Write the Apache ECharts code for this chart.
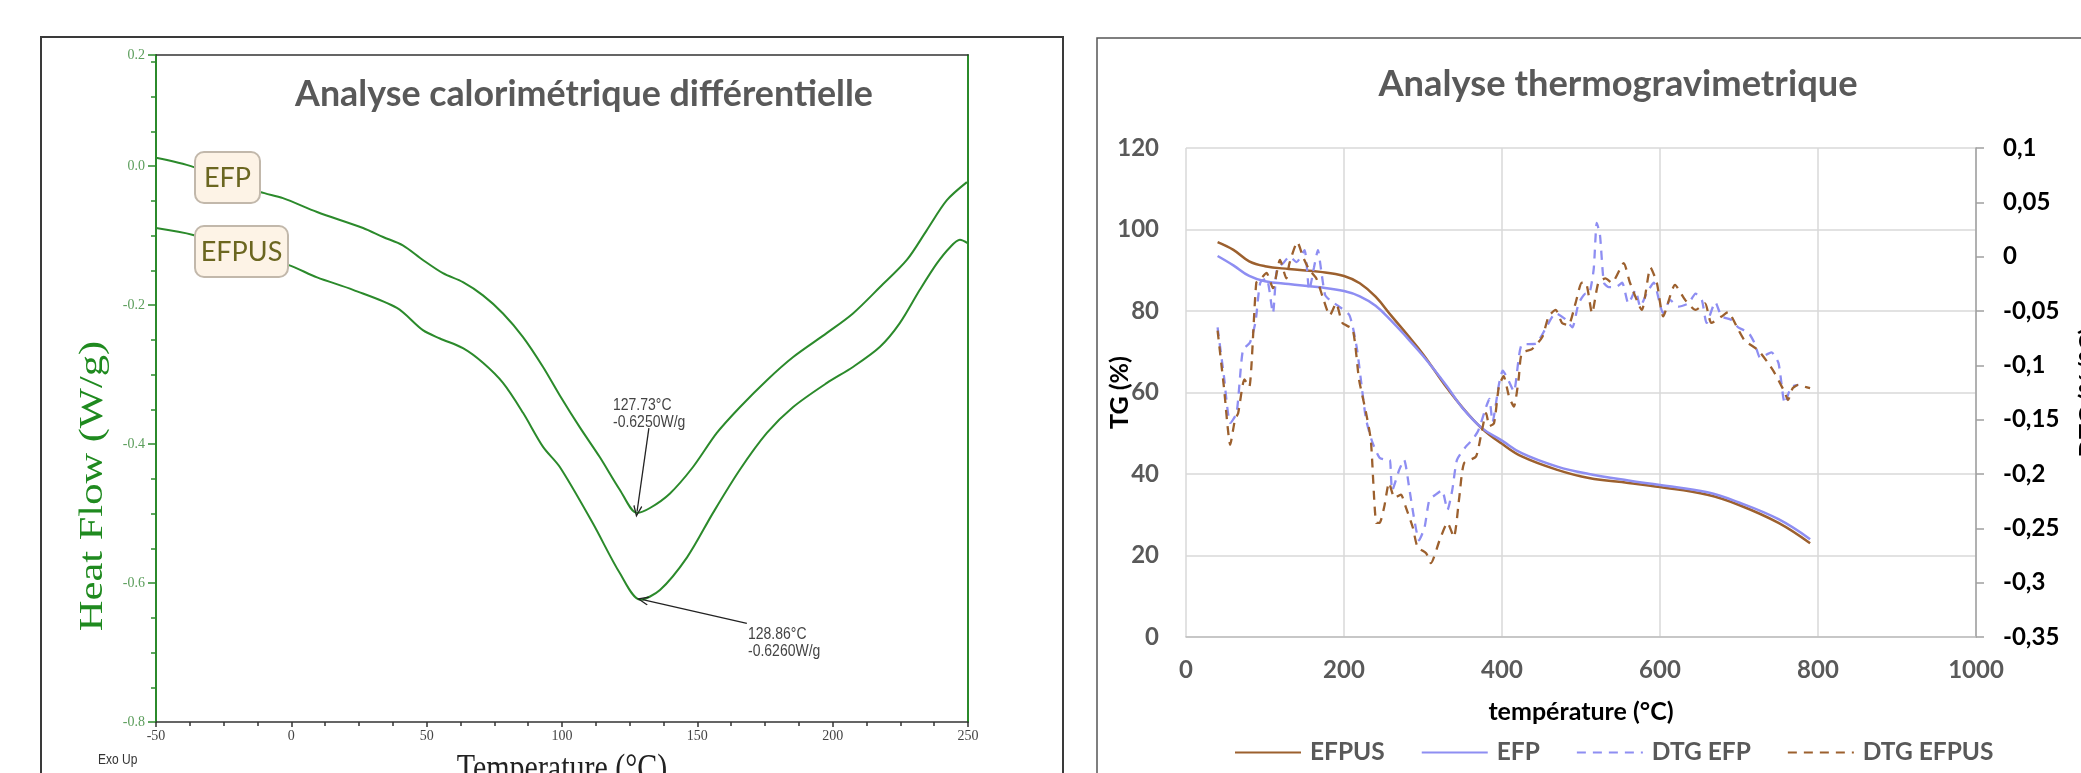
<!DOCTYPE html>
<html>
<head>
<meta charset="utf-8">
<script src="https://cdn.jsdelivr.net/npm/echarts@6/dist/echarts.min.js"></script>
<style>
html,body{margin:0;padding:0;background:#fff;}
#chart{width:2081px;height:773px;}
</style>
</head>
<body>
<div id="chart"></div>
<script>
// ---------- DSC (left) ----------
const dscTempEFP = [-50, -36.3, -11.6, -3.1, 9.5, 26.5, 33.9, 41.2, 48.6, 56.0, 63.4, 70.8, 78.2, 85.6, 93.0, 99.2, 106.6, 114.0, 121.4, 127.7, 132.5, 139.9, 148.4, 157.2, 165.7, 175.7, 185.3, 197.9, 207.5, 217.5, 227.4, 234.8, 242.2, 249.6];
const dscHeatEFP = [0.012, -0.001, -0.037, -0.046, -0.066, -0.089, -0.102, -0.114, -0.135, -0.154, -0.167, -0.186, -0.212, -0.246, -0.289, -0.330, -0.376, -0.419, -0.466, -0.499, -0.492, -0.471, -0.433, -0.384, -0.347, -0.308, -0.275, -0.240, -0.212, -0.174, -0.135, -0.092, -0.049, -0.023];
const dscTempEFPUS = [-50, -36.3, -1.2, 9.5, 22.8, 39.0, 48.6, 54.9, 63.4, 70.8, 78.2, 85.6, 93.0, 99.2, 111.4, 121.4, 128.9, 136.2, 146.2, 155.8, 165.7, 175.7, 185.3, 197.9, 207.5, 217.5, 224.8, 232.2, 238.5, 243.3, 247.0, 250.0];
const dscHeatEFPUS = [-0.089, -0.099, -0.142, -0.160, -0.178, -0.204, -0.236, -0.248, -0.262, -0.283, -0.312, -0.355, -0.404, -0.433, -0.514, -0.586, -0.624, -0.610, -0.563, -0.499, -0.437, -0.384, -0.347, -0.312, -0.289, -0.260, -0.226, -0.178, -0.140, -0.117, -0.106, -0.111];
const dscYTickLabels = ['-0.8', '-0.6', '-0.4', '-0.2', '0.0', '0.2'];
// annotation arrows: [start temp, start heat flow, end temp, end heat flow]
const annEFP = [132.1, -0.377, 127.73, -0.497];
const annEFPUS = [168.3, -0.658, 129.8, -0.624];

// ---------- TGA (right) ----------
const tgTemp = [40, 60, 80, 100, 130, 170, 200, 220, 240, 260, 280, 300, 330, 350, 375, 400, 425, 470, 510, 560, 600, 660, 700, 750, 790];
const tgEFPUS = [96.9, 95.0, 92.2, 91.0, 90.3, 89.6, 88.6, 86.8, 83.5, 78.8, 74.2, 69.4, 61.2, 56.3, 51.1, 47.4, 44.3, 41.0, 39.0, 37.8, 36.8, 34.9, 32.4, 28.0, 23.0];
const tgEFP = [93.5, 91.2, 88.6, 87.3, 86.6, 85.8, 84.9, 83.6, 81.3, 77.6, 73.4, 69.0, 61.6, 56.2, 51.2, 48.2, 45.1, 41.8, 40.0, 38.4, 37.3, 35.5, 33.0, 28.9, 24.0];

const dtgTempEFP = [40,48,56,64,72,81,88,94,102,110,115,123,131,140,150,156,162,167,171,176,182,194,207,216,223,228,236,245,254,258,261,270,276,283,289,295,302,308,316,324,331,337,343,354,362,370,380,384,388,396,401,407,415,425,443,456,468,481,489,497,506,510,516,520,524,529,535,544,552,560,569,575,583,592,604,613,623,636,645,653,659,670,678,690,699,712,720,727,741,750,758,766,775];
const dtgEFP = [-0.065,-0.11,-0.153,-0.144,-0.086,-0.079,-0.06,-0.024,-0.02,-0.052,-0.012,-0.006,0.0,-0.005,0.006,-0.031,-0.01,0.006,-0.012,-0.035,-0.04,-0.046,-0.054,-0.083,-0.123,-0.15,-0.171,-0.185,-0.187,-0.187,-0.215,-0.196,-0.187,-0.215,-0.242,-0.261,-0.249,-0.224,-0.219,-0.215,-0.233,-0.215,-0.187,-0.175,-0.169,-0.16,-0.138,-0.131,-0.152,-0.118,-0.105,-0.112,-0.124,-0.081,-0.08,-0.065,-0.052,-0.058,-0.065,-0.043,-0.034,-0.034,-0.012,0.031,0.02,-0.024,-0.028,-0.028,-0.024,-0.043,-0.031,-0.046,-0.034,-0.024,-0.052,-0.04,-0.046,-0.043,-0.034,-0.04,-0.061,-0.042,-0.055,-0.058,-0.065,-0.07,-0.08,-0.093,-0.088,-0.098,-0.135,-0.12,-0.118];
const dtgTempEFPUS = [40,48,56,62,66,74,80,89,95,102,110,119,127,131,141,148,156,165,173,182,190,198,211,219,228,234,241,245,251,257,264,272,278,287,293,304,310,321,331,339,346,352,367,374,380,384,390,396,402,409,415,421,425,438,451,459,468,476,484,493,501,506,514,522,531,539,554,562,577,588,596,604,619,632,645,657,665,678,686,699,707,724,737,745,758,762,768,775,785,790];
const dtgEFPUS = [-0.068,-0.12,-0.173,-0.15,-0.144,-0.113,-0.12,-0.024,-0.02,-0.015,-0.029,-0.003,-0.02,-0.006,0.0135,0.0,-0.012,-0.02,-0.037,-0.054,-0.043,-0.061,-0.067,-0.113,-0.144,-0.169,-0.245,-0.245,-0.23,-0.208,-0.222,-0.219,-0.23,-0.249,-0.267,-0.273,-0.282,-0.261,-0.245,-0.258,-0.221,-0.19,-0.184,-0.162,-0.144,-0.156,-0.153,-0.12,-0.11,-0.129,-0.138,-0.113,-0.089,-0.085,-0.074,-0.055,-0.049,-0.061,-0.063,-0.043,-0.024,-0.024,-0.052,-0.024,-0.02,-0.024,-0.006,-0.024,-0.049,-0.01,-0.024,-0.055,-0.026,-0.04,-0.049,-0.043,-0.061,-0.055,-0.051,-0.067,-0.077,-0.086,-0.098,-0.107,-0.125,-0.132,-0.121,-0.118,-0.12,-0.121];
const dtgTickLabels = ['-0,35', '-0,3', '-0,25', '-0,2', '-0,15', '-0,1', '-0,05', '0', '0,05', '0,1'];

const zip = (xs, ys) => xs.map((x, i) => [x, ys[i]]);

const GREEN = '#2b8a2b';
const BROWN = '#9c602e';
const BLUE = '#8e8ef2';
const GRAY = '#595959';
const ARROW = 'path://M5,0 L10,10 L8.8,10.8 L5,3 L1.2,10.8 L0,10 Z';

const chart = echarts.init(document.getElementById('chart'), null, {renderer: 'canvas'});

const option = {
  animation: false,
  backgroundColor: '#fff',
  title: [
    {text: 'Analyse calorimétrique différentielle', left: 579, top: 71, textAlign: 'center',
     textStyle: {fontFamily: 'Lato', fontWeight: 'bold', fontSize: 35.8, color: GRAY}},
    {text: 'Analyse thermogravimetrique', left: 1613, top: 61, textAlign: 'center',
     textStyle: {fontFamily: 'Lato', fontWeight: 'bold', fontSize: 36.3, color: GRAY}}
  ],
  grid: [
    {left: 156, top: 55, width: 812, height: 667, containLabel: false, outerBoundsMode: 'none'},
    {left: 1186, top: 148, width: 790, height: 489, containLabel: false, outerBoundsMode: 'none'}
  ],
  legend: {
    left: 1229, top: 735, itemWidth: 66, itemHeight: 14, itemGap: 36,
    data: ['EFPUS', 'EFP', 'DTG EFP', 'DTG EFPUS'],
    itemStyle: {opacity: 0},
    textStyle: {fontFamily: 'Lato', fontWeight: 'bold', fontSize: 24.5, color: GRAY, padding: [0, 0, 0, 4]}
  },
  xAxis: [
    { // DSC bottom
      gridIndex: 0, type: 'value', min: -50, max: 250, interval: 50,
      axisLine: {onZero: false, lineStyle: {color: '#333', width: 1.5}},
      axisTick: {length: 5, lineStyle: {color: '#333', width: 1.5}},
      minorTick: {show: true, splitNumber: 4, length: 4, lineStyle: {color: '#333', width: 1.5}},
      splitLine: {show: false},
      axisLabel: {margin: 7, fontFamily: 'Liberation Serif', fontSize: 14, color: '#444'}
    },
    { // TGA bottom
      gridIndex: 1, type: 'value', min: 0, max: 1000, interval: 200,
      axisLine: {onZero: false, lineStyle: {color: '#bfbfbf', width: 1.5}},
      axisTick: {show: false},
      splitLine: {show: true, lineStyle: {color: '#d9d9d9', width: 1.5}},
      axisLabel: {margin: 21, fontFamily: 'Lato', fontWeight: 'bold', fontSize: 24, color: GRAY,
        formatter: v => String(v)},
      name: 'température (°C)', nameLocation: 'middle', nameGap: 62,
      nameTextStyle: {fontFamily: 'Lato', fontWeight: 'bold', fontSize: 25, color: '#000'}
    },
    { // DSC top frame
      gridIndex: 0, type: 'value', position: 'top', min: -50, max: 250,
      axisLine: {onZero: false, lineStyle: {color: '#333', width: 1.5}},
      axisTick: {show: false}, axisLabel: {show: false}, splitLine: {show: false}
    }
  ],
  yAxis: [
    { // DSC left
      gridIndex: 0, type: 'value', min: -0.8, max: 0.16, interval: 0.2,
      axisLine: {show: true, onZero: false, lineStyle: {color: GREEN, width: 2}},
      axisTick: {show: true, length: 8, lineStyle: {color: GREEN, width: 1.5}},
      minorTick: {show: true, splitNumber: 4, length: 5, lineStyle: {color: GREEN, width: 1.5}},
      splitLine: {show: false},
      axisLabel: {margin: 11, fontFamily: 'Liberation Serif', fontSize: 14, color: '#5c9e5c',
        formatter: (v, i) => dscYTickLabels[i]}
    },
    { // TGA left
      gridIndex: 1, type: 'value', min: 0, max: 120, interval: 20,
      axisLine: {show: false, onZero: false}, axisTick: {show: false},
      splitLine: {show: true, lineStyle: {color: '#d9d9d9', width: 1.5}},
      axisLabel: {margin: 27, fontFamily: 'Lato', fontWeight: 'bold', fontSize: 24, color: GRAY},
      name: 'TG (%)', nameLocation: 'middle', nameGap: 54, nameMoveOverlap: false,
      nameTextStyle: {fontFamily: 'Lato', fontWeight: 'bold', fontSize: 25, color: '#000'}
    },
    { // TGA right (DTG)
      gridIndex: 1, type: 'value', position: 'right', min: -0.35, max: 0.1, interval: 0.05,
      axisLine: {show: true, onZero: false, lineStyle: {color: '#a0a0a0', width: 1.5}},
      axisTick: {show: true, length: 8, lineStyle: {color: '#a0a0a0', width: 1.5}},
      splitLine: {show: false},
      axisLabel: {margin: 27, fontFamily: 'Lato', fontWeight: 'bold', fontSize: 24, color: '#000',
        formatter: (v, i) => dtgTickLabels[i]},
      name: 'DTG (%/°C)', nameLocation: 'middle', nameGap: 100, nameMoveOverlap: false,
      nameTextStyle: {fontFamily: 'Lato', fontWeight: 'bold', fontSize: 25, color: '#000'}
    },
    { // DSC right frame
      gridIndex: 0, type: 'value', position: 'right', min: -0.8, max: 0.16,
      axisLine: {show: true, onZero: false, lineStyle: {color: GREEN, width: 2}},
      axisTick: {show: false}, axisLabel: {show: false}, splitLine: {show: false}
    }
  ],
  series: [
    {
      name: 'DSC EFP', type: 'line', xAxisIndex: 0, yAxisIndex: 0, data: zip(dscTempEFP, dscHeatEFP),
      showSymbol: false, symbol: 'none', smooth: 0.3, lineStyle: {color: GREEN, width: 2}, z: 3,
      markLine: {
        silent: true, symbol: ['none', ARROW], symbolSize: [9, 12],
        lineStyle: {color: '#222', width: 1.3, type: 'solid'}, label: {show: false},
        data: [[{coord: [annEFP[0], annEFP[1]]}, {coord: [annEFP[2], annEFP[3]]}]]
      }
    },
    {
      name: 'DSC EFPUS', type: 'line', xAxisIndex: 0, yAxisIndex: 0, data: zip(dscTempEFPUS, dscHeatEFPUS),
      showSymbol: false, symbol: 'none', smooth: 0.3, lineStyle: {color: GREEN, width: 2}, z: 3,
      markLine: {
        silent: true, symbol: ['none', ARROW], symbolSize: [9, 12],
        lineStyle: {color: '#222', width: 1.3, type: 'solid'}, label: {show: false},
        data: [[{coord: [annEFPUS[0], annEFPUS[1]]}, {coord: [annEFPUS[2], annEFPUS[3]]}]]
      }
    },
    {
      name: 'EFPUS', type: 'line', xAxisIndex: 1, yAxisIndex: 1, data: zip(tgTemp, tgEFPUS),
      showSymbol: false, symbol: 'none', smooth: 0.4, color: BROWN, lineStyle: {color: BROWN, width: 2.5}
    },
    {
      name: 'EFP', type: 'line', xAxisIndex: 1, yAxisIndex: 1, data: zip(tgTemp, tgEFP),
      showSymbol: false, symbol: 'none', smooth: 0.4, color: BLUE, lineStyle: {color: BLUE, width: 2.5}
    },
    {
      name: 'DTG EFP', type: 'line', xAxisIndex: 1, yAxisIndex: 2, data: zip(dtgTempEFP, dtgEFP),
      showSymbol: false, symbol: 'none', smooth: 0.2, color: BLUE,
      lineStyle: {color: BLUE, width: 2.3, type: [9, 7]}
    },
    {
      name: 'DTG EFPUS', type: 'line', xAxisIndex: 1, yAxisIndex: 2, data: zip(dtgTempEFPUS, dtgEFPUS),
      showSymbol: false, symbol: 'none', smooth: 0.2, color: BROWN,
      lineStyle: {color: BROWN, width: 2.3, type: [9, 7]}
    }
  ],
  graphic: [
    // panel frames
    {type: 'rect', shape: {x: 41, y: 37, width: 1022, height: 780}, style: {fill: null, stroke: '#3a3a3a', lineWidth: 2}, z: 0, silent: true},
    {type: 'rect', shape: {x: 1097, y: 38, width: 1020, height: 780}, style: {fill: null, stroke: '#555', lineWidth: 1.5}, z: 0, silent: true},
    // DSC axis titles (stretched like the source image)
    {type: 'text', x: 93, y: 486, rotation: Math.PI / 2, scaleX: 1.25, silent: true,
     style: {text: 'Heat Flow (W/g)', font: '34px "Liberation Serif"', fill: '#1f8a1f', align: 'center', verticalAlign: 'middle'}},
    {type: 'text', x: 562, y: 751, scaleY: 1.25, silent: true,
     style: {text: 'Temperature (°C)', font: '30px "Liberation Serif"', fill: '#222', align: 'center', verticalAlign: 'top'}},
    {type: 'text', x: 98, y: 760, scaleY: 1.25, silent: true,
     style: {text: 'Exo Up', font: '12px "Liberation Sans"', fill: '#333', align: 'left', verticalAlign: 'middle'}},
    // peak annotations
    {type: 'text', x: 613, y: 397, scaleY: 1.2, silent: true, z: 10,
     style: {text: '127.73°C\n-0.6250W/g', font: '14px "Liberation Sans"', fill: '#444', lineHeight: 14, align: 'left', verticalAlign: 'top'}},
    {type: 'text', x: 748, y: 626, scaleY: 1.2, silent: true, z: 10,
     style: {text: '128.86°C\n-0.6260W/g', font: '14px "Liberation Sans"', fill: '#444', lineHeight: 14, align: 'left', verticalAlign: 'top'}},
    // curve labels
    {type: 'rect', shape: {x: 195, y: 152, width: 65, height: 51, r: 9}, style: {fill: '#fdf3e6', stroke: '#c2b8ab', lineWidth: 2}, z: 20, silent: true},
    {type: 'text', x: 227.5, y: 178, z: 21, silent: true,
     style: {text: 'EFP', font: '27px Lato', fill: '#6b6620', align: 'center', verticalAlign: 'middle'}},
    {type: 'rect', shape: {x: 195, y: 226, width: 93, height: 51, r: 9}, style: {fill: '#fdf3e6', stroke: '#c2b8ab', lineWidth: 2}, z: 20, silent: true},
    {type: 'text', x: 241.5, y: 252, z: 21, silent: true,
     style: {text: 'EFPUS', font: '27px Lato', fill: '#6b6620', align: 'center', verticalAlign: 'middle'}}
  ]
};
chart.setOption(option);
</script>
</body>
</html>
